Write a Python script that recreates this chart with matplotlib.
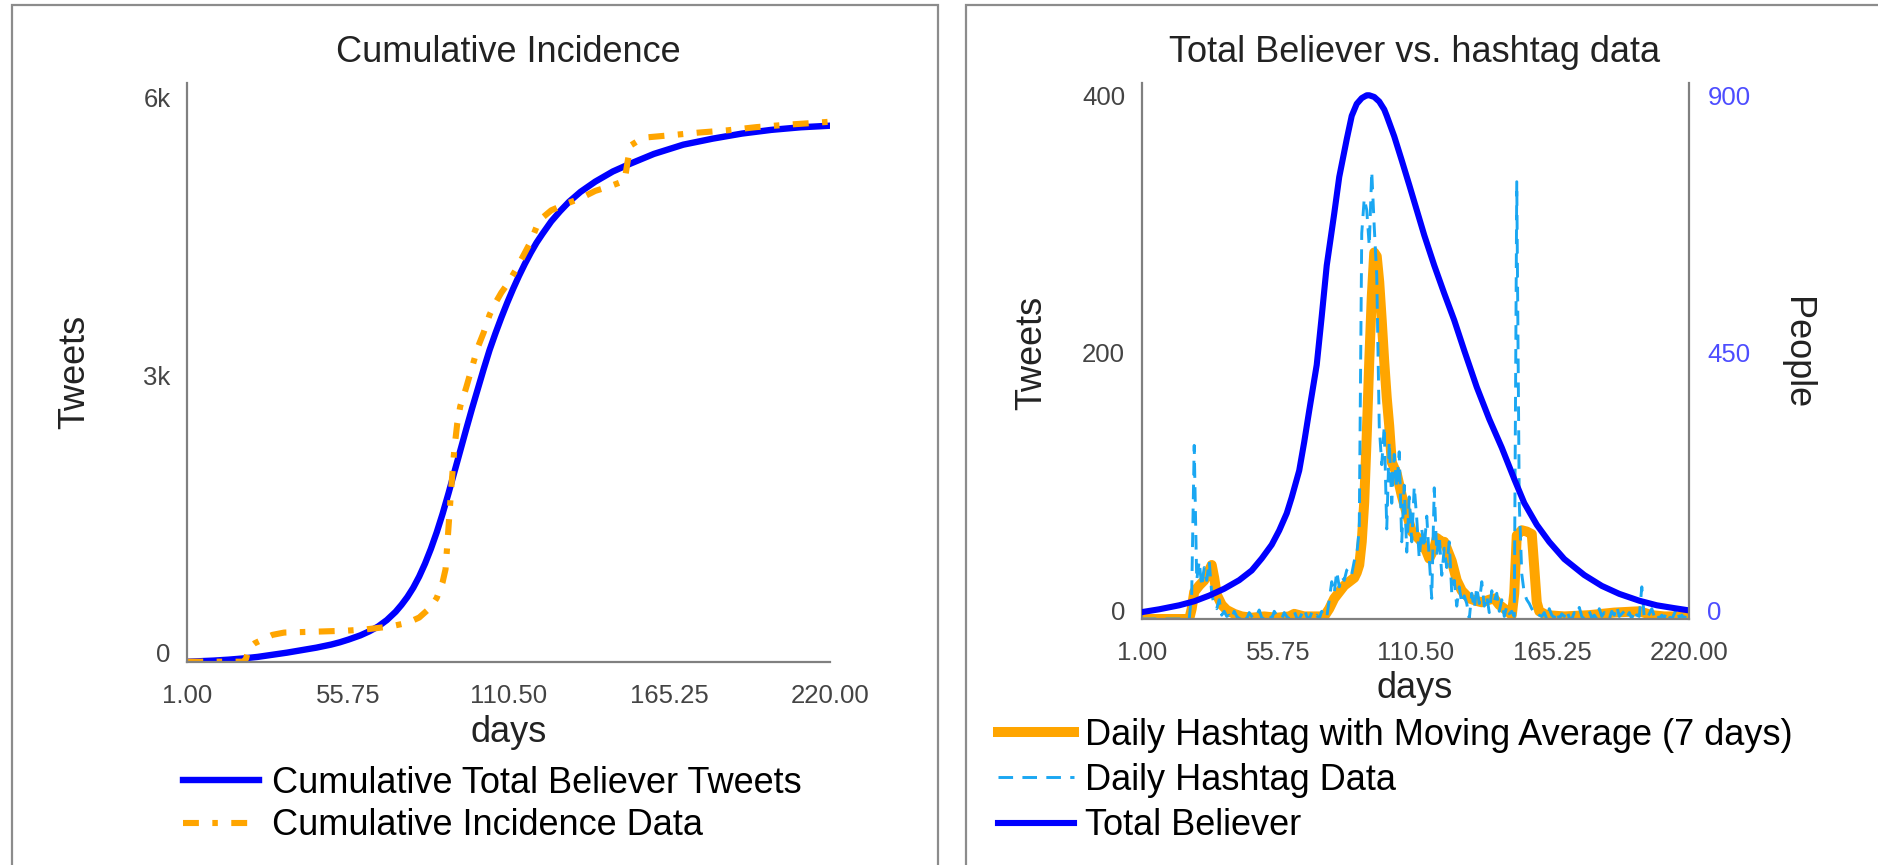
import matplotlib
matplotlib.use("Agg")
import matplotlib.pyplot as plt
from matplotlib.patches import Rectangle
from matplotlib.transforms import ScaledTranslation

plt.rcParams["font.family"] = ["Liberation Sans", "DejaVu Sans"]

# ---------------- data ----------------
x_ticks = [1.00, 55.75, 110.50, 165.25, 220.00]
x_tick_labels = ["1.00", "55.75", "110.50", "165.25", "220.00"]

# Cumulative model output (tweets)
cum_model_days = [1, 5, 10, 15, 20, 25, 30, 35, 40, 45, 50, 53, 56, 60, 63, 66, 69,
                  72, 74, 76, 78, 80, 82, 84, 86, 88, 90, 92, 94, 96, 98, 100, 102,
                  104, 106, 108, 110, 112, 114, 116, 118, 120, 122, 125, 128, 131,
                  135, 140, 146, 152, 160, 170, 180, 190, 200, 210, 220]
cum_model_vals = [0, 5, 12, 22, 35, 52, 75, 98, 125, 152, 185, 210, 240, 285, 328,
                  380, 450, 540, 615, 700, 800, 920, 1060, 1220, 1400, 1600, 1820,
                  2050, 2280, 2510, 2735, 2950, 3165, 3370, 3550, 3720, 3880, 4030,
                  4170, 4300, 4420, 4530, 4625, 4760, 4870, 4970, 5080, 5190, 5300,
                  5385, 5490, 5590, 5655, 5710, 5750, 5778, 5795]

# Cumulative incidence data (tweets)
cum_data_days = [1, 20, 21, 22, 24, 26, 30, 34, 45, 55, 62, 70, 76, 80, 84, 86, 88,
                 89, 90, 91, 92, 93, 94, 96, 98, 100, 102, 104, 106, 108, 110, 113,
                 116, 118, 120, 122, 125, 130, 135, 140, 145, 150, 151, 152, 155,
                 158, 165, 175, 185, 195, 205, 212, 220]
cum_data_vals = [0, 0, 30, 150, 200, 230, 290, 315, 325, 335, 350, 380, 420, 477,
                 590, 690, 860, 1000, 1450, 1900, 2300, 2580, 2760, 2960, 3180, 3400,
                 3560, 3750, 3880, 3990, 4080, 4240, 4420, 4540, 4700, 4800, 4880,
                 4950, 5010, 5090, 5140, 5200, 5400, 5580, 5640, 5670, 5690, 5720,
                 5745, 5780, 5805, 5820, 5838]

# Daily hashtag counts, days 1..220
daily_days = list(range(1, 221))
daily_vals = (
    [0] * 20
    # days 21-35
    + [20, 135, 30, 45, 25, 40, 30, 45, 20, 10, 8, 15, 3, 6, 2]
    # days 36-60
    + [3, 0, 6, 2, 0, 4, 1, 0, 5, 2, 0, 3, 7, 1, 0, 2, 4, 0, 6, 3, 1, 0, 5, 2, 0]
    # days 61-75
    + [2, 6, 1, 0, 4, 8, 2, 0, 5, 1, 3, 0, 6, 2, 1]
    # days 76-83
    + [15, 29, 20, 37, 25, 33, 30, 38]
    # days 84-130
    + [40, 35, 45, 50, 70, 300, 327, 318, 290, 348, 305, 267, 150, 120, 150, 70,
       138, 90, 128, 102, 130, 60, 104, 52, 95, 60, 103, 78, 47, 70, 55, 80, 47,
       16, 102, 50, 65, 34, 55, 40, 60, 20, 30, 10, 25, 12, 18]
    # days 131-150
    + [12, 0, 20, 8, 25, 12, 29, 10, 18, 5, 22, 14, 20, 6, 15, 2, 10, 4, 6, 2]
    # days 151-160
    + [340, 90, 35, 20, 15, 12, 8, 5, 6, 3]
    # days 161-220
    + [2, 5, 0, 8, 3, 1, 6, 0, 4, 2, 7, 1, 0, 5, 3, 9, 2, 0, 4, 6,
       1, 3, 0, 8, 2, 5, 1, 0, 6, 3, 10, 2, 4, 6, 1, 5, 0, 7, 3, 2,
       25, 1, 0, 4, 8, 2, 5, 0, 3, 1, 6, 2, 0, 4, 9, 1, 3, 0, 5, 2]
)

# 7-day moving average of the daily counts
ma_days = [1, 20, 21, 22, 24, 26, 28, 29, 30, 31, 33, 35, 38, 41, 45, 50, 55, 60,
           62, 66, 70, 74, 76, 78, 80, 82, 84, 86, 87, 88, 89, 90, 91, 92, 93, 94,
           95, 96, 97, 98, 99, 100, 101, 103, 105, 107, 109, 111, 113, 115, 116,
           118, 119, 121, 122, 124, 125, 127, 129, 132, 135, 137, 140, 142, 144,
           146, 148, 149, 150, 151, 153, 155, 157, 158, 159, 160, 163, 170, 180,
           190, 200, 205, 210, 220]
ma_vals = [0, 0, 8, 21, 26, 30, 38, 42, 32, 19, 11, 7, 4, 2, 1, 2, 1, 2, 4, 2, 2,
           2, 8, 16, 21, 26, 29, 32, 36, 42, 60, 91, 143, 200, 250, 285, 282, 262,
           232, 200, 172, 150, 122, 113, 96, 82, 68, 64, 60, 52, 47, 55, 63, 60,
           60, 50, 45, 30, 22, 16, 14, 13, 15, 16, 11, 8, 5, 3, 20, 65, 69, 68,
           66, 40, 13, 6, 3, 2, 3, 5, 6, 3, 2, 2]

# Total believer population (people)
believer_days = [1, 8, 16, 22, 28, 34, 40, 45, 49, 53, 56, 59, 61, 64, 66, 68, 71,
                 73, 75, 78, 80, 83, 85, 87, 89, 91, 92, 94, 96, 98, 99, 102, 105,
                 108, 111, 114, 118, 122, 126, 130, 135, 140, 145, 150, 154, 159,
                 164, 170, 178, 185, 192, 200, 207, 214, 220]
believer_vals = [12, 17, 24, 31, 41, 53, 68, 85, 106, 130, 155, 185, 213, 260, 310,
                 365, 445, 530, 619, 710, 774, 840, 881, 902, 912, 917, 917, 914,
                 906, 892, 881, 845, 803, 760, 716, 672, 619, 570, 523, 470, 406,
                 350, 300, 245, 203, 165, 135, 105, 77, 58, 44, 32, 24, 19, 15]

# ---------------- figure ----------------
W, H = 1878, 865
fig = plt.figure(figsize=(W / 100, H / 100), dpi=100)


def axrect(x0, x1, ytop, ybot):
    return [x0 / W, 1 - ybot / H, (x1 - x0) / W, (ybot - ytop) / H]


# panel frames
for x0, x1 in [(11.7, 937.7), (965.7, 1900)]:
    fig.add_artist(Rectangle((x0 / W, -0.05), (x1 - x0) / W, 1.05 - 4.7 / H,
                             transform=fig.transFigure, fill=False,
                             edgecolor="#8c8c8c", lw=1.6))

TICK_FS = 18.5
LABEL_FS = 26
SPINE_C = "#808080"
TICK_C = "#444444"
TEXT_C = "#222222"


def style_axis(ax, spines=("left", "bottom")):
    for s in ["left", "right", "top", "bottom"]:
        ax.spines[s].set_visible(s in spines)
        ax.spines[s].set_color(SPINE_C)
        ax.spines[s].set_linewidth(1.6)
    ax.tick_params(length=0, labelsize=TICK_FS, labelcolor=TICK_C)
    ax.set_xlim(1, 220)
    ax.set_xticks(x_ticks)
    ax.set_xticklabels(x_tick_labels)
    ax.tick_params(axis="x", pad=16)
    ax.tick_params(axis="y", pad=12)
    ax.set_facecolor("none")


def lift_ylabels(ax, px=9):
    off = ScaledTranslation(0, px / 100, fig.dpi_scale_trans)
    for lab in ax.get_yticklabels():
        lab.set_transform(lab.get_transform() + off)


# ---- left panel ----
ax1 = fig.add_axes(axrect(187.3, 830, 82.7, 661.7))
style_axis(ax1)
ax1.set_ylim(0, 6260)
ax1.set_yticks([0, 3000, 6000])
ax1.set_yticklabels(["0", "3k", "6k"])
lift_ylabels(ax1)
l1, = ax1.plot(cum_model_days, cum_model_vals, color="#0000ff", lw=4.6,
               solid_joinstyle="round", label="Cumulative Total Believer Tweets")
l2, = ax1.plot(cum_data_days, cum_data_vals, color="#ffa500", lw=4.4,
               linestyle=(0, (2.6, 2.2, 0.9, 2.2)), dash_capstyle="butt",
               label="Cumulative Incidence Data")
fig.text(508.6 / W, 1 - 53 / H, "Cumulative Incidence", ha="center", va="center",
         fontsize=LABEL_FS, color=TEXT_C)
fig.text(75 / W, 1 - 372 / H, "Tweets", ha="center", va="center", rotation=90,
         fontsize=LABEL_FS, color=TEXT_C)
fig.text(508.6 / W, 1 - 733 / H, "days", ha="center", va="center",
         fontsize=LABEL_FS, color=TEXT_C)
fig.legend(handles=[l1, l2], loc="upper left",
           bbox_to_anchor=(183 / W, 1 - 766 / H), frameon=False,
           fontsize=LABEL_FS, handlelength=2.1, handletextpad=0.36,
           labelspacing=0.2, borderpad=0, borderaxespad=0)

# ---- right panel ----
ax2 = fig.add_axes(axrect(1141.7, 1689.3, 82.7, 619))
style_axis(ax2, spines=("left", "bottom"))
ax2.set_ylim(0, 417)
ax2.set_yticks([0, 200, 400])
lift_ylabels(ax2)
m1, = ax2.plot(ma_days, ma_vals, color="#ffa500", lw=7.2, solid_joinstyle="round",
               label="Daily Hashtag with Moving Average (7 days)")
m2, = ax2.plot(daily_days, daily_vals, color="#1aa7f2", lw=2.1,
               linestyle=(0, (5.0, 3.2)),
               label="Daily Hashtag Data")

ax3 = ax2.twinx()
ax3.set_position(axrect(1141.7, 1689.3, 82.7, 619))
style_axis(ax3, spines=("right",))
ax3.tick_params(axis="y", labelcolor="#4d4dff", pad=13)
ax3.set_ylim(0, 939)
ax3.set_yticks([0, 450, 900])
lift_ylabels(ax3)
m3, = ax3.plot(believer_days, believer_vals, color="#0000ff", lw=4.4,
               solid_joinstyle="round", label="Total Believer")

fig.text(1415 / W, 1 - 53 / H, "Total Believer vs. hashtag data", ha="center",
         va="center", fontsize=LABEL_FS, color=TEXT_C)
fig.text(1032 / W, 1 - 353 / H, "Tweets", ha="center", va="center", rotation=90,
         fontsize=LABEL_FS, color=TEXT_C)
fig.text(1797 / W, 1 - 353 / H, "People", ha="center", va="center", rotation=270,
         fontsize=LABEL_FS, color=TEXT_C)
fig.text(1415 / W, 1 - 689 / H, "days", ha="center", va="center",
         fontsize=LABEL_FS, color=TEXT_C)
fig.legend(handles=[m1, m2, m3], loc="upper left",
           bbox_to_anchor=(998 / W, 1 - 718 / H), frameon=False,
           fontsize=LABEL_FS, handlelength=2.1, handletextpad=0.3,
           labelspacing=0.28, borderpad=0, borderaxespad=0)

fig.savefig("out.png", dpi=100, facecolor="white")
